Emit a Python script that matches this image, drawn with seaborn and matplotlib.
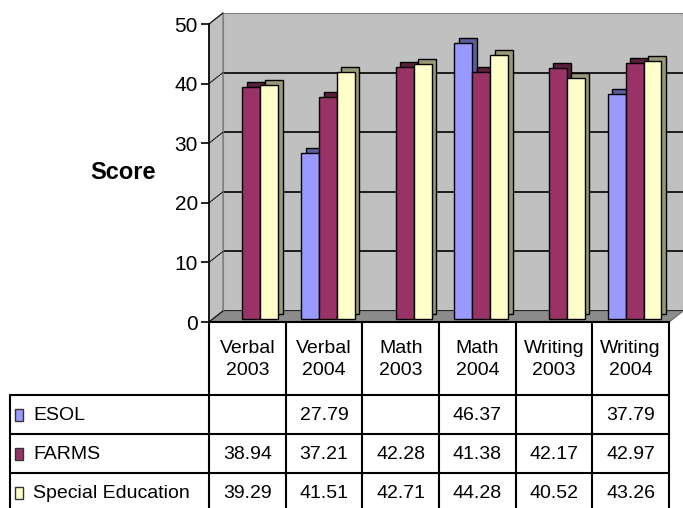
import numpy as np
import pandas as pd
import matplotlib
matplotlib.use("Agg")
import matplotlib.pyplot as plt
import matplotlib.patheffects as pe
import matplotlib.transforms as mtransforms
from matplotlib.patches import Polygon, Rectangle
import seaborn as sns

categories = ["Verbal\n2003", "Verbal\n2004", "Math\n2003", "Math\n2004", "Writing\n2003", "Writing\n2004"]
groups = ["ESOL", "FARMS", "Special Education"]
esol = [np.nan, 27.79, np.nan, 46.37, np.nan, 37.79]
farms = [38.94, 37.21, 42.28, 41.38, 42.17, 42.97]
special_ed = [39.29, 41.51, 42.71, 44.28, 40.52, 43.26]
colors = ["#9999FF", "#993366", "#FFFFCC"]
yticks = [0, 10, 20, 30, 40, 50]

series = [esol, farms, special_ed]
df = pd.DataFrame({
    "category": categories * 3,
    "group": np.repeat(groups, len(categories)),
    "score": np.concatenate(series),
})
df = df.dropna()

sns.set_style("white")
plt.rcParams["font.family"] = ["Liberation Sans", "DejaVu Sans"]
plt.rcParams["text.color"] = "black"
plt.rcParams["ytick.color"] = "black"

W, H = 683, 508
fig = plt.figure(figsize=(W / 100, H / 100), dpi=100)

# layout in pixels (from top-left)
L, R, TOP, BOT = 209, 669, 24, 322
DX, DY = 14, 11          # depth of the 3D box
TAB_L = 10
HEAD_B = 395
ROW_H = 39


def frac(x0, y0, x1, y1):
    return [x0 / W, (H - y1) / H, (x1 - x0) / W, (y1 - y0) / H]


# background layer: side wall, floor, data table
bg = fig.add_axes([0, 0, 1, 1], zorder=0)
bg.set_xlim(0, W)
bg.set_ylim(H, 0)
bg.axis("off")

bg.add_patch(Polygon([(L, TOP), (L + DX, TOP - DY), (L + DX, BOT - DY), (L, BOT)],
                     closed=True, facecolor="#c0c0c0", edgecolor="#808080", lw=1))
bg.add_patch(Polygon([(L, BOT), (R, BOT), (R + DX, BOT - DY), (L + DX, BOT - DY)],
                     closed=True, facecolor="#8c8c8c", edgecolor="#707070", lw=1))

# back wall with gridlines
wall = fig.add_axes(frac(L + DX, TOP - DY, R + DX, BOT - DY), zorder=1)
wall.set_facecolor("#c0c0c0")
wall.set_xlim(-0.5, len(categories) - 0.5)
wall.set_ylim(0, 50)
wall.set_yticks(yticks)
wall.set_xticks([])
wall.tick_params(axis="y", length=0, labelleft=False)
wall.grid(axis="y", color="black", lw=1.2)
for s in wall.spines.values():
    s.set_color("#808080")

# front axes with the bars
ax = fig.add_axes(frac(L, TOP, R, BOT), zorder=3)
ax.patch.set_visible(False)
sns.barplot(data=df, x="category", y="score", hue="group", order=categories,
            hue_order=groups, palette=colors, width=0.7, saturation=1,
            edgecolor="black", linewidth=1, legend=False, ax=ax)
ax.set_xlim(-0.5, len(categories) - 0.5)
ax.set_ylim(0, 50)
ax.set_yticks(yticks)
ax.set_yticklabels([str(v) for v in yticks], fontsize=15)
ax.set_xticks([])
ax.set_xlabel("")
ax.set_ylabel("")
ax.tick_params(axis="y", direction="out", length=6, width=1.2, color="black", left=True, pad=2)
for name, s in ax.spines.items():
    s.set_visible(name == "left")
ax.spines["left"].set_color("black")
ax.spines["left"].set_linewidth(1.2)

# bars sit mid-depth, with a darker extruded side/top face
shift = mtransforms.ScaledTranslation(4 / 100, 3 / 100, fig.dpi_scale_trans)
for p in ax.patches:
    fc = np.array(p.get_facecolor()[:3])
    dark = tuple(fc * 0.6)
    p.set_transform(ax.transData + shift)
    p.set_path_effects([
        pe.PathPatchEffect(offset=(3.2, 3.6), facecolor=dark, edgecolor="black", linewidth=1),
        pe.Normal(),
    ])

# connectors from the y ticks to the back wall
for v in yticks:
    ax.annotate("", xy=(0, v), xycoords=("axes fraction", "data"),
                xytext=(DX * 0.72, DY * 0.72), textcoords="offset points",
                arrowprops=dict(arrowstyle="-", color="black", lw=0.8,
                                shrinkA=0, shrinkB=0, linestyle=(0, (1, 1))),
                annotation_clip=False)

fig.text(123 / W, 1 - 172 / H, "Score", ha="center", va="center", fontsize=17,
         fontweight="bold")

# data table
col_w = (R - L) / len(categories)
col_edges = [L + i * col_w for i in range(len(categories) + 1)]
row_edges = [HEAD_B + i * ROW_H for i in range(len(groups) + 1)]
lw = 1.5
bg.plot([L, R], [BOT, BOT], color="black", lw=lw)
for y in row_edges:
    bg.plot([TAB_L, R], [y, y], color="black", lw=lw)
bg.plot([TAB_L, TAB_L], [HEAD_B, H + 10], color="black", lw=lw)
for x in col_edges:
    bg.plot([x, x], [BOT, H + 10], color="black", lw=lw)

for i, cat in enumerate(categories):
    cx = (col_edges[i] + col_edges[i + 1]) / 2
    bg.text(cx, (BOT + HEAD_B) / 2 + 1, cat, ha="center", va="center",
            fontsize=14, linespacing=1.35)

for r, (name, vals, col) in enumerate(zip(groups, series, colors)):
    cy = (row_edges[r] + row_edges[r + 1]) / 2
    bg.add_patch(Rectangle((15, cy - 6), 8, 12, facecolor=col, edgecolor="#333333", lw=1))
    bg.text(33, cy + 1, name, ha="left", va="center", fontsize=14)
    for i, v in enumerate(vals):
        if np.isnan(v):
            continue
        cx = (col_edges[i] + col_edges[i + 1]) / 2
        bg.text(cx, cy + 1, f"{v:.2f}", ha="center", va="center", fontsize=14)

fig.savefig("out.png", dpi=100)
